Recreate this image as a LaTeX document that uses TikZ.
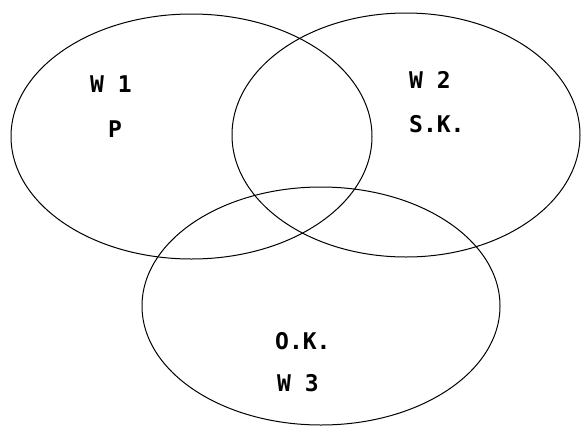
\documentclass[tikz,border=0pt]{standalone}
\usepackage{fontspec}
\setmonofont{DejaVu Sans Mono}
\usetikzlibrary{positioning}

\begin{document}
\begin{tikzpicture}[x=1pt,y=-1pt,set/.style={line width=1pt, draw=black},lbl/.style={anchor=base west, inner sep=0pt, font=\ttfamily\bfseries\fontsize{23}{26}\selectfont}]
\useasboundingbox (0,0) rectangle (581,426);
% the three sets
\draw[set] (191.5,136.5) ellipse [x radius=180.5, y radius=122.5];
\draw[set] (406,135) ellipse [x radius=174, y radius=122];
\draw[set] (321,306) ellipse [x radius=179, y radius=119];
% labels
\node[lbl] (w1) at (90,92) {W 1};\node[lbl] (p) at (108,137) {P};
\node[lbl] (w2) at (409,88) {W 2};\node[lbl] (sk) at (409,132) {S.K.};
\node[lbl] (ok) at (275,349) {O.K.};\node[lbl] (w3) at (277,391) {W 3};
\end{tikzpicture}
\end{document}
